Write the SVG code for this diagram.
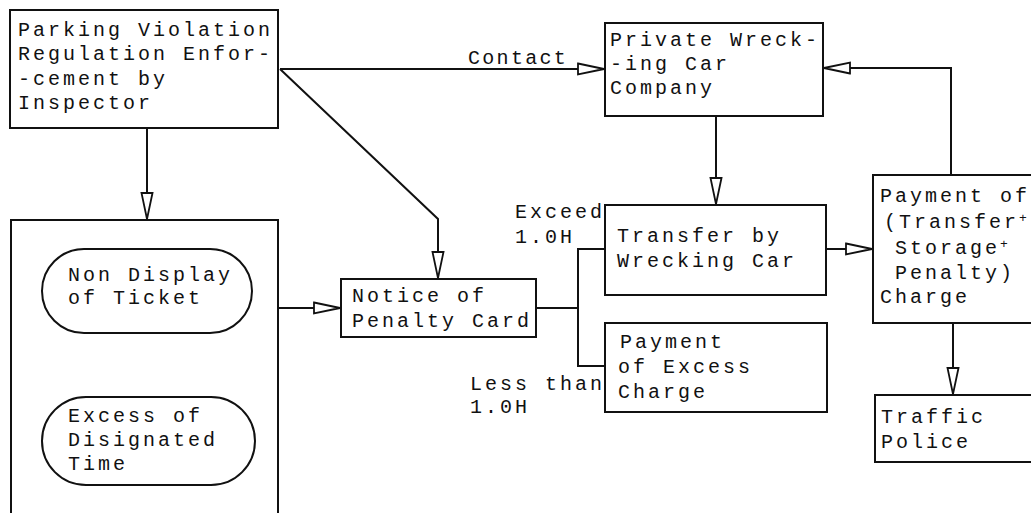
<svg xmlns="http://www.w3.org/2000/svg" width="1031" height="513" viewBox="0 0 1031 513">
<style>
.box{fill:#fff;stroke:#111;stroke-width:2}
.con{fill:none;stroke:#111;stroke-width:2}
.t{font-family:"Liberation Mono","Courier New",monospace;font-size:20px;letter-spacing:3px;fill:#111}
.sup{font-size:13px;letter-spacing:0}
</style>
<defs>
<marker id="ah" viewBox="0 0 28 14" refX="28" refY="7" markerWidth="28" markerHeight="14" markerUnits="userSpaceOnUse" orient="auto">
<path d="M1,1.5 L27,7 L1,12.5 Z" fill="#fff" stroke="#111" stroke-width="1.8"/>
</marker>
</defs>
<rect width="1031" height="513" fill="#fff"/>
<g id="n-inspector">
<rect class="box" x="10" y="10" width="268" height="118"/>
<text class="t" x="18" y="36">Parking Violation</text>
<text class="t" x="18" y="60">Regulation Enfor-</text>
<text class="t" x="18" y="85">-cement by</text>
<text class="t" x="18" y="109">Inspector</text>
</g>
<g id="n-violations">
<rect class="box" x="11" y="220" width="267" height="300"/>
<rect class="box" x="42" y="249" width="210" height="84" rx="42" ry="42"/>
<text class="t" x="68" y="281">Non Display</text>
<text class="t" x="68" y="304">of Ticket</text>
<rect class="box" x="42" y="397" width="213" height="88" rx="44" ry="44"/>
<text class="t" x="68" y="422">Excess of</text>
<text class="t" x="68" y="446">Disignated</text>
<text class="t" x="68" y="470">Time</text>
</g>
<g id="n-notice">
<rect class="box" x="341" y="279" width="195" height="58"/>
<text class="t" x="352" y="302">Notice of</text>
<text class="t" x="352" y="327">Penalty Card</text>
</g>
<g id="n-company">
<rect class="box" x="605" y="23" width="218" height="93"/>
<text class="t" x="610" y="46">Private Wreck-</text>
<text class="t" x="610" y="70">-ing Car</text>
<text class="t" x="610" y="94">Company</text>
</g>
<g id="n-transfer">
<rect class="box" x="605" y="205" width="221" height="90"/>
<text class="t" x="617" y="242">Transfer by</text>
<text class="t" x="617" y="267">Wrecking Car</text>
</g>
<g id="n-excess">
<rect class="box" x="605" y="323" width="222" height="89"/>
<text class="t" x="620" y="348">Payment</text>
<text class="t" x="618" y="373">of Excess</text>
<text class="t" x="618" y="398">Charge</text>
</g>
<g id="n-payment">
<rect class="box" x="873" y="175" width="170" height="148"/>
<text class="t" x="880" y="202">Payment of</text>
<text class="t" x="884" y="228">(Transfer<tspan class="sup" dy="-6">+</tspan></text>
<text class="t" x="895" y="254">Storage<tspan class="sup" dy="-6">+</tspan></text>
<text class="t" x="895" y="279">Penalty)</text>
<text class="t" x="880" y="303">Charge</text>
</g>
<g id="n-police">
<rect class="box" x="875" y="395" width="170" height="67"/>
<text class="t" x="881" y="423">Traffic</text>
<text class="t" x="881" y="448">Police</text>
</g>
<g id="connectors">
<path class="con" d="M280,69 H605" marker-end="url(#ah)"/>
<path class="con" d="M280,69 L438,219 V279" marker-end="url(#ah)"/>
<path class="con" d="M147,128 V220" marker-end="url(#ah)"/>
<path class="con" d="M278,308 H341" marker-end="url(#ah)"/>
<path class="con" d="M536,308 H578"/>
<path class="con" d="M605,249 H578 V366 H605"/>
<path class="con" d="M716,116 V205" marker-end="url(#ah)"/>
<path class="con" d="M826,249 H873" marker-end="url(#ah)"/>
<path class="con" d="M951,175 V68 H823" marker-end="url(#ah)"/>
<path class="con" d="M953,323 V395" marker-end="url(#ah)"/>
</g>
<g id="labels">
<text class="t" x="468" y="64" style="letter-spacing:2.3px">Contact</text>
<text class="t" x="515" y="218">Exceed</text>
<text class="t" x="515" y="243">1.0H</text>
<text class="t" x="470" y="390">Less than</text>
<text class="t" x="470" y="413">1.0H</text>
</g>
</svg>
